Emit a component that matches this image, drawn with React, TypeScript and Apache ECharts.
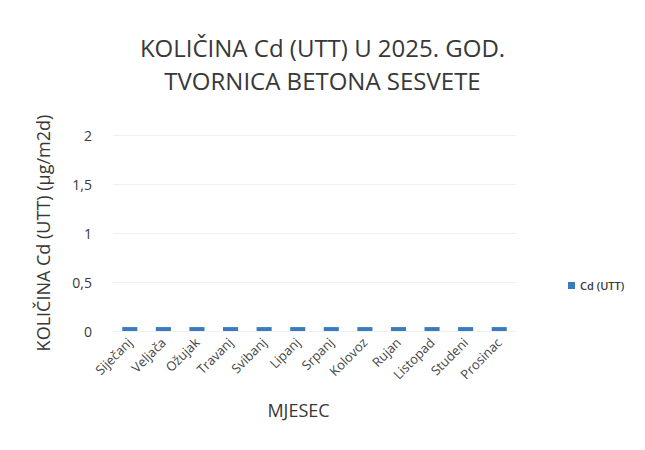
import React, { useEffect, useRef } from "react";
import * as echarts from "echarts";

const months = [
  "Siječanj", "Veljača", "Ožujak", "Travanj", "Svibanj", "Lipanj",
  "Srpanj", "Kolovoz", "Rujan", "Listopad", "Studeni", "Prosinac",
];
const cdValues = [0.04, 0.04, 0.04, 0.04, 0.04, 0.04, 0.04, 0.04, 0.04, 0.04, 0.04, 0.04];
const seriesName = "Cd (UTT)";
const titleText = "KOLIČINA Cd (UTT) U 2025. GOD.\nTVORNICA BETONA SESVETE";
const yName = "KOLIČINA Cd (UTT) (µg/m2d)";
const xName = "MJESEC";

export default function App() {
  const ref = useRef<HTMLDivElement>(null);
  useEffect(() => {
    if (!ref.current) return;
    const chart = echarts.init(ref.current, undefined, { renderer: "svg" });
    const font = "Open Sans";
    chart.setOption({
      animation: false,
      backgroundColor: "#ffffff",
      textStyle: { fontFamily: font },
      title: {
        text: titleText,
        left: "center",
        top: 26,
        textStyle: {
          fontFamily: font,
          fontSize: 24,
          fontWeight: "normal",
          color: "#383838",
          lineHeight: 33,
        },
      },
      legend: {
        orient: "vertical",
        left: 563,
        top: 275,
        icon: "rect",
        itemWidth: 7,
        itemHeight: 7,
        itemGap: 4,
        textStyle: { fontFamily: font, fontSize: 11, color: "#383838", fontWeight: 600 },
        data: [seriesName],
      },
      grid: { left: 113, right: 129, top: 135, bottom: 119 },
      xAxis: {
        type: "category",
        data: months,
        name: xName,
        nameLocation: "middle",
        nameGap: 70,
        nameTextStyle: {
          fontFamily: font,
          fontSize: 18,
          color: "#383838",
          padding: [0, 32, 0, 0],
        },
        axisLine: { show: false },
        axisTick: { show: false },
        axisLabel: {
          interval: 0,
          rotate: 45,
          fontFamily: font,
          fontSize: 13,
          color: "#454545",
          margin: 9,
        },
      },
      yAxis: {
        type: "value",
        min: 0,
        max: 2,
        interval: 0.5,
        name: yName,
        nameLocation: "middle",
        nameRotate: 90,
        nameGap: 61,
        nameTextStyle: { fontFamily: font, fontSize: 18, color: "#383838" },
        axisLine: { show: false },
        axisTick: { show: false },
        axisLabel: {
          fontFamily: font,
          fontSize: 14,
          color: "#383838",
          margin: 21,
          padding: [6, 0, 0, 0],
          formatter: (v: number) => String(v).replace(".", ","),
        },
        splitLine: { lineStyle: { color: "#efefef", width: 1 } },
      },
      series: [
        {
          name: seriesName,
          type: "bar",
          data: cdValues,
          barWidth: "45%",
          itemStyle: { color: "#3a7bbd" },
        },
      ],
    });
    return () => chart.dispose();
  }, []);
  return (
    <div
      ref={ref}
      style={{ position: "fixed", left: 0, top: 0, width: 645, height: 450 }}
    />
  );
}
